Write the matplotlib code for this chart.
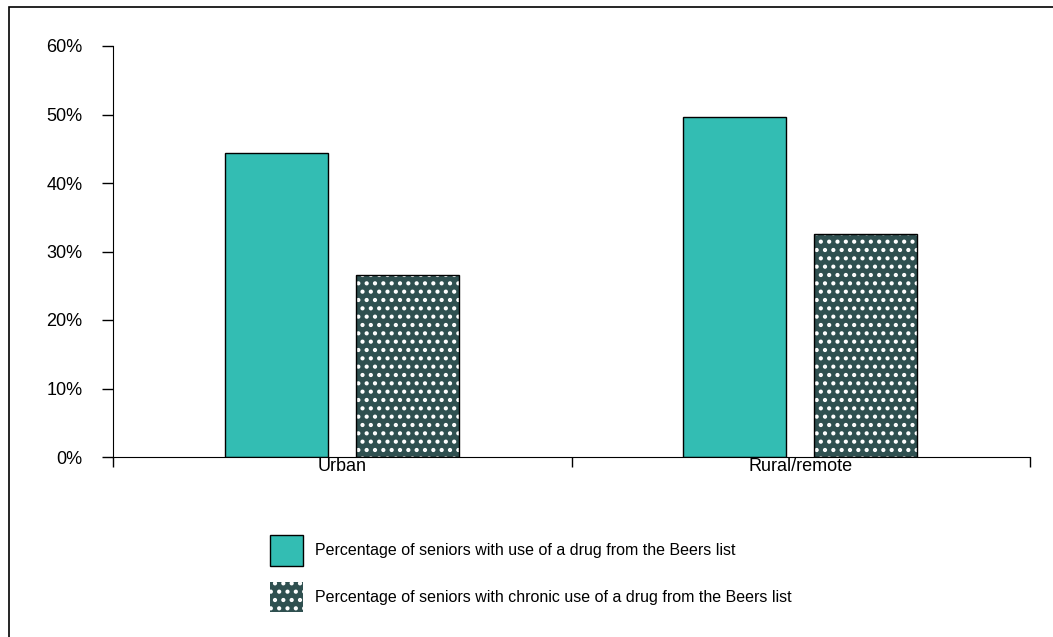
import matplotlib.pyplot as plt
import matplotlib.patches as mpatches
from matplotlib.ticker import PercentFormatter

plt.rcParams['font.family'] = ['Liberation Sans', 'DejaVu Sans']
plt.rcParams['hatch.linewidth'] = 1.8

# data (percent of seniors)
regions = ["Urban", "Rural/remote"]
any_use = [44.4, 49.7]
chronic_use = [26.6, 32.6]
series_labels = [
    "Percentage of seniors with use of a drug from the Beers list",
    "Percentage of seniors with chronic use of a drug from the Beers list",
]

teal = "#33bdb3"
dark = "#2f5050"

fig = plt.figure(figsize=(10.53, 6.37), dpi=100)
ax = fig.add_axes([113 / 1053, 1 - 457 / 637, (1030 - 113) / 1053, (457 - 46) / 637])

centers = [0.5, 1.5]
width = 0.225
x1 = [c - 0.144 for c in centers]
x2 = [c + 0.142 for c in centers]

ax.bar(x1, any_use, width=width, color=teal, edgecolor="black", linewidth=1.0)
# dotted bars: white hatch first, then black outline on top
ax.bar(x2, chronic_use, width=width, color=dark, edgecolor="white", hatch="..", linewidth=0)
ax.bar(x2, chronic_use, width=width, fill=False, edgecolor="black", linewidth=1.0)

ax.set_xlim(0, 2)
ax.set_ylim(0, 60)
ax.set_yticks(range(0, 61, 10))
ax.yaxis.set_major_formatter(PercentFormatter(decimals=0))
ax.set_xticks([0, 1, 2])
ax.set_xticklabels([])
ax.set_xticks(centers, minor=True)
ax.set_xticklabels(regions, minor=True)
ax.tick_params(axis="x", which="minor", length=0, pad=1, labelsize=13)
ax.tick_params(axis="x", which="major", length=7, width=1)
ax.tick_params(axis="y", length=8, width=1, pad=14, labelsize=13)
ax.spines["top"].set_visible(False)
ax.spines["right"].set_visible(False)

# legend below plot
h1 = mpatches.Patch(facecolor=teal, edgecolor="black", linewidth=1.0)
h2 = mpatches.Patch(facecolor=dark, edgecolor="white", hatch="..", linewidth=0)
leg = fig.legend([h1, h2], series_labels, loc="upper left",
                 bbox_to_anchor=(262 / 1053, 1 - 527 / 637), frameon=False,
                 borderpad=0, handlelength=2.07, handleheight=2.58,
                 handletextpad=0.75, labelspacing=1.0, fontsize=11.5)

# outer border (top and left only are visible)
fig.add_artist(mpatches.Rectangle((9 / 1053, -0.05), 1.1, 1 - 7 / 637 + 0.05,
                                  transform=fig.transFigure, fill=False,
                                  edgecolor="black", linewidth=1.2))

fig.savefig("out.png", dpi=100)
